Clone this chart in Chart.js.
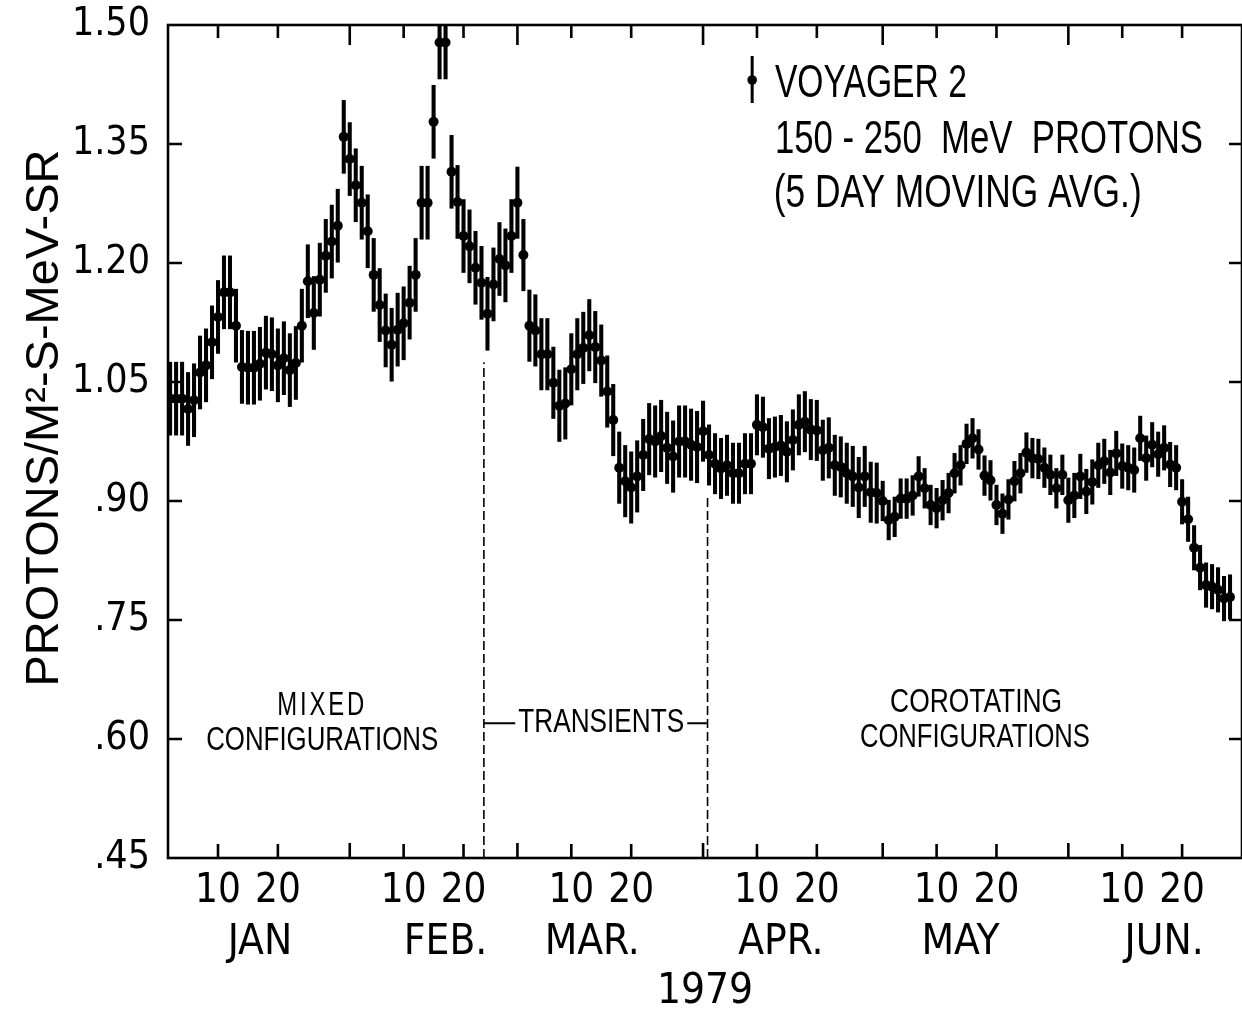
<!DOCTYPE html>
<html>
<head>
<meta charset="utf-8">
<script src="https://cdn.jsdelivr.net/npm/chart.js@4.4.1/dist/chart.umd.min.js"></script>
<style>
  html, body { margin: 0; padding: 0; background: #fff; }
  canvas { display: block; }
</style>
</head>
<body>
<canvas id="protons" width="1242" height="1019"></canvas>
<script>
// Voyager 2, 150-250 MeV protons, 5 day moving average, Jan - Jun 1979
// x is day of year 1979, y is protons / m2-s-MeV-sr

const firstDay = 2;
const flux = [
  1.029, 1.029, 1.029, 1.016, 1.027, 1.062, 1.071, 1.100, 1.132, 1.163,
  1.163, 1.121, 1.069, 1.068, 1.068, 1.073, 1.087, 1.085, 1.071, 1.080,
  1.065, 1.074, 1.121, 1.177, 1.137, 1.179, 1.209, 1.227, 1.247, 1.359,
  1.331, 1.298, 1.276, 1.240, 1.185, 1.147, 1.115, 1.097, 1.116, 1.124,
  1.150, 1.185, 1.276, 1.276, 1.378, 1.478, 1.478, 1.315, 1.277, 1.234,
  1.221, 1.194, 1.175, 1.136, 1.173, 1.205, 1.197, 1.234, 1.276, 1.210,
  1.121, 1.115, 1.085, 1.085, 1.049, 1.020, 1.023, 1.066, 1.085, 1.093,
  1.109, 1.094, 1.077, 1.038, 1.002, 0.942, 0.925, 0.917, 0.931, 0.958,
  0.978, 0.975, 0.982, 0.967, 0.956, 0.975, 0.975, 0.971, 0.968, 0.988,
  0.958, 0.947, 0.941, 0.945, 0.935, 0.935, 0.947, 0.947, 0.996, 0.993,
  0.966, 0.968, 0.970, 0.962, 0.977, 0.996, 1.000, 0.990, 0.989, 0.964,
  0.967, 0.945, 0.943, 0.935, 0.931, 0.917, 0.931, 0.911, 0.910, 0.900,
  0.876, 0.880, 0.903, 0.903, 0.907, 0.931, 0.916, 0.895, 0.891, 0.901,
  0.910, 0.935, 0.945, 0.972, 0.979, 0.965, 0.932, 0.926, 0.895, 0.884,
  0.902, 0.925, 0.935, 0.961, 0.954, 0.953, 0.942, 0.933, 0.916, 0.933,
  0.901, 0.907, 0.931, 0.912, 0.924, 0.945, 0.950, 0.936, 0.960, 0.944,
  0.942, 0.939, 0.979, 0.954, 0.971, 0.959, 0.967, 0.946, 0.942, 0.899,
  0.877, 0.841, 0.816, 0.794, 0.792, 0.788, 0.777, 0.779
];
const days = flux.map((v, i) => firstDay + i);

// half length of the error bars, one per month
const errHalf = [0.046, 0.046, 0.045, 0.038, 0.025, 0.028];

const months = ['JAN', 'FEB.', 'MAR.', 'APR.', 'MAY', 'JUN.'];
const monthStartDays = [1, 32, 60, 91, 121, 152];
const monthLabelDays = [17, 48, 72.5, 104, 134, 168];
const tickDays = [10, 20, 41, 51, 69, 79, 100, 110, 130, 140, 161, 171];
const tickLabels = ['10', '20', '10', '20', '10', '20', '10', '20', '10', '20', '10', '20'];
const yTicks = [0.45, 0.60, 0.75, 0.90, 1.05, 1.20, 1.35, 1.50];
const yTickLabels = ['.45', '.60', '.75', '.90', '1.05', '1.20', '1.35', '1.50'];

// period boundaries (dashed lines): day, top value
const boundaryDays = [54.4, 91.75];
const boundaryTops = [1.075, 0.905];

const COND = "'DejaVu Sans Condensed', 'Liberation Sans', sans-serif";
const SANS = "'Liberation Sans', Arial, sans-serif";

function errFor(day) {
  let m = 0;
  monthStartDays.forEach((s, i) => { if (day >= s) m = i; });
  return errHalf[m];
}

const points = days.map((d, i) => ({ x: d, y: flux[i] }));
const bars = days.map((d, i) => ({ x: d, y: [flux[i] - errFor(d), flux[i] + errFor(d)] }));

const dashed = boundaryDays.map((d, i) => ({
  type: 'line',
  data: [{ x: d, y: 0.45 }, { x: d, y: boundaryTops[i] }],
  borderColor: '#000',
  borderWidth: 1.6,
  borderDash: [9, 4],
  pointRadius: 0,
  order: 3
}));

// frame, inward ticks, annotations and key
const decor = {
  id: 'decor',
  afterDatasetsDraw(chart) {
    const { ctx, chartArea: a } = chart;
    const x = chart.scales.x, y = chart.scales.y;
    const px = d => x.getPixelForValue(d);
    const py = v => y.getPixelForValue(v);
    ctx.save();
    ctx.strokeStyle = '#000';
    ctx.fillStyle = '#000';
    ctx.lineWidth = 2.6;
    ctx.strokeRect(a.left, a.top, a.right - a.left, a.bottom - a.top);

    ctx.beginPath();
    yTicks.slice(1, -1).forEach(v => {
      ctx.moveTo(a.left, py(v)); ctx.lineTo(a.left + 14, py(v));
      ctx.moveTo(a.right, py(v)); ctx.lineTo(a.right - 13, py(v));
    });
    tickDays.forEach(d => {
      ctx.moveTo(px(d), a.top); ctx.lineTo(px(d), a.top + 13);
      ctx.moveTo(px(d), a.bottom); ctx.lineTo(px(d), a.bottom - 14);
    });
    monthStartDays.slice(1).forEach(d => {
      ctx.moveTo(px(d), a.top); ctx.lineTo(px(d), a.top + 20);
      ctx.moveTo(px(d), a.bottom); ctx.lineTo(px(d), a.bottom - 15);
    });
    ctx.stroke();

    // period labels (lettering is narrow, so squeeze with maxWidth)
    ctx.textAlign = 'center';
    ctx.textBaseline = 'middle';
    ctx.font = '33px ' + SANS;
    ctx.letterSpacing = '4px';
    ctx.fillText('MIXED', px(27.4), py(0.642), 90);
    ctx.letterSpacing = '0px';
    ctx.fillText('CONFIGURATIONS', px(27.4), py(0.598), 232);
    ctx.fillText('COROTATING', px(136.6), py(0.645), 172);
    ctx.fillText('CONFIGURATIONS', px(136.4), py(0.602), 230);
    const tx = px(74), ty = py(0.62), tw = 166;
    ctx.fillText('TRANSIENTS', tx, ty, tw);
    ctx.lineWidth = 2;
    ctx.beginPath();
    ctx.moveTo(px(boundaryDays[0]), ty); ctx.lineTo(tx - tw / 2 - 3, ty);
    ctx.moveTo(tx + tw / 2 + 3, ty); ctx.lineTo(px(boundaryDays[1]), ty);
    ctx.stroke();

    // key
    const kx = px(99.2);
    ctx.lineWidth = 3;
    ctx.beginPath();
    ctx.moveTo(kx, 56); ctx.lineTo(kx, 103);
    ctx.stroke();
    ctx.beginPath();
    ctx.arc(kx, 80, 4.8, 0, Math.PI * 2);
    ctx.fill();
    ctx.textAlign = 'left';
    ctx.textBaseline = 'alphabetic';
    ctx.font = '47px ' + SANS;
    ctx.fillText('VOYAGER 2', px(103), 97, 192);
    ctx.fillText('150 - 250  MeV  PROTONS', px(103), 153, 428);
    ctx.fillText('(5 DAY MOVING AVG.)', px(102.8), 207, 368);
    ctx.restore();
  }
};

function flatX(s) { s.paddingLeft = 0; s.paddingRight = 0; }

new Chart(document.getElementById('protons'), {
  type: 'scatter',
  data: {
    datasets: [
      {
        type: 'scatter',
        data: points,
        pointRadius: 5,
        pointBackgroundColor: '#000',
        pointBorderWidth: 0,
        order: 1
      },
      {
        type: 'bar',
        data: bars,
        backgroundColor: '#000',
        barThickness: 3.4,
        grouped: false,
        order: 2
      },
      ...dashed
    ]
  },
  options: {
    responsive: false,
    animation: false,
    events: [],
    layout: { autoPadding: false, padding: { top: 25, left: 0, right: 0, bottom: 0 } },
    plugins: {
      legend: { display: false },
      tooltip: { enabled: false }
    },
    scales: {
      x: {
        type: 'linear',
        position: 'bottom',
        min: 1.65,
        max: 181,
        bounds: 'data',
        offset: false,
        weight: 0,
        grid: { display: false, drawTicks: false },
        border: { display: false },
        afterBuildTicks: s => { s.ticks = tickDays.map(v => ({ value: v })); },
        afterFit: s => { s.height = 56; flatX(s); },
        ticks: {
          autoSkip: false,
          maxRotation: 0,
          padding: 10,
          color: '#000',
          font: { family: COND, size: 40 },
          callback: (v, i) => tickLabels[i]
        }
      },
      xm: {
        type: 'linear',
        position: 'bottom',
        min: 1.65,
        max: 181,
        bounds: 'data',
        offset: false,
        weight: 1,
        grid: { display: false, drawTicks: false },
        border: { display: false },
        afterBuildTicks: s => { s.ticks = monthLabelDays.map(v => ({ value: v })); },
        afterFit: s => { s.height = 105; flatX(s); },
        ticks: {
          autoSkip: false,
          maxRotation: 0,
          padding: 4,
          color: '#000',
          font: { family: COND, size: 42 },
          callback: (v, i) => months[i]
        },
        title: {
          display: true,
          text: '1979',
          color: '#000',
          font: { family: COND, size: 42 },
          padding: { top: 0, bottom: 2 }
        }
      },
      y: {
        type: 'linear',
        position: 'left',
        min: 0.45,
        max: 1.50,
        grid: { display: false, drawTicks: false },
        border: { display: false },
        afterBuildTicks: s => { s.ticks = yTicks.map(v => ({ value: v })); },
        afterFit: s => { s.width = 168; s.paddingTop = 0; s.paddingBottom = 0; },
        ticks: {
          padding: 18,
          color: '#000',
          font: { family: COND, size: 39 },
          callback: (v, i) => yTickLabels[i]
        },
        title: {
          display: true,
          text: '\u2003PROTONS/M\u00B2-S-MeV-SR',
          color: '#000',
          font: { family: SANS, size: 47 },
          padding: { top: 17, bottom: 0 }
        }
      }
    }
  },
  plugins: [decor]
});
</script>
</body>
</html>
